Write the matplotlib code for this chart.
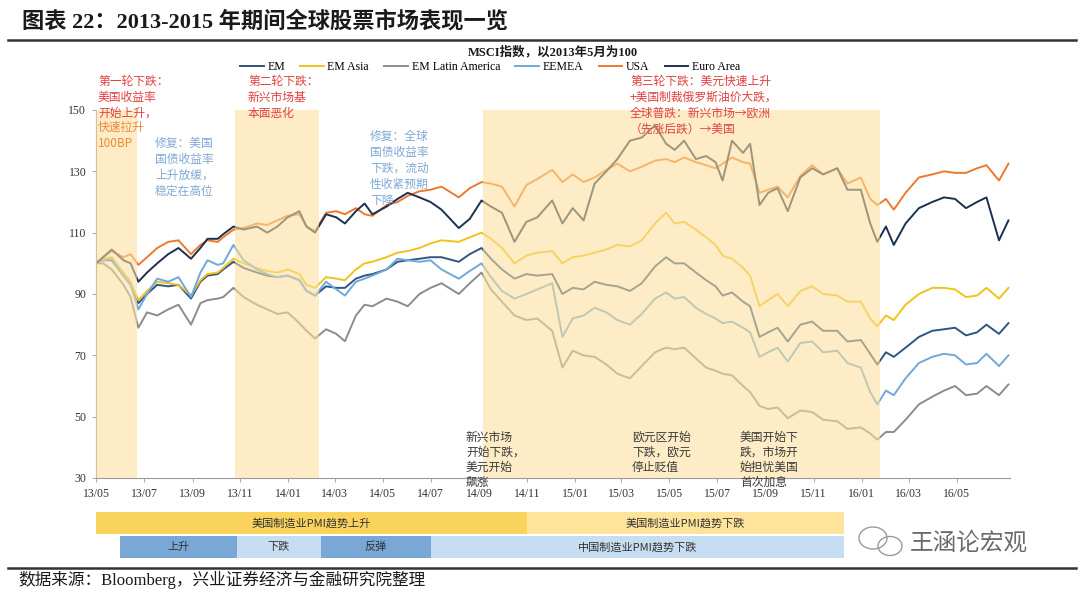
import matplotlib
matplotlib.use('Agg')
import matplotlib.pyplot as plt
import matplotlib.dates as mdates
import pandas as pd
from matplotlib.patches import Ellipse
from matplotlib.lines import Line2D

# MSCI index, May 2013 = 100
dates = ['2013-05-01', '2013-05-10', '2013-05-21', '2013-06-05', '2013-06-14', '2013-06-24', '2013-07-05',
         '2013-07-18', '2013-08-01', '2013-08-14', '2013-08-30', '2013-09-11', '2013-09-20', '2013-10-03',
         '2013-10-10', '2013-10-23', '2013-11-05', '2013-11-22', '2013-12-05', '2013-12-18', '2013-12-31',
         '2014-01-15', '2014-01-24', '2014-02-04', '2014-02-18', '2014-03-03', '2014-03-14', '2014-03-28',
         '2014-04-08', '2014-04-18', '2014-05-06', '2014-05-20', '2014-06-02', '2014-06-17', '2014-07-01',
         '2014-07-15', '2014-08-06', '2014-08-20', '2014-09-04', '2014-09-16', '2014-09-30', '2014-10-16',
         '2014-10-31', '2014-11-14', '2014-12-03', '2014-12-16', '2014-12-29',
         '2015-01-12', '2015-01-26', '2015-02-10', '2015-02-24', '2015-03-12', '2015-03-27', '2015-04-13',
         '2015-04-27', '2015-05-08', '2015-05-20', '2015-06-04', '2015-06-17', '2015-06-29', '2015-07-08',
         '2015-07-20', '2015-08-03', '2015-08-12', '2015-08-24', '2015-09-04', '2015-09-16', '2015-09-29',
         '2015-10-15', '2015-10-30', '2015-11-13', '2015-12-01', '2015-12-14', '2015-12-31',
         '2016-01-12', '2016-01-21', '2016-02-01', '2016-02-11', '2016-02-26', '2016-03-14', '2016-03-31',
         '2016-04-15', '2016-04-29', '2016-05-13', '2016-05-27', '2016-06-08', '2016-06-24', '2016-07-06']

em = [100, 101, 101, 96, 93, 87, 90, 93, 92.5, 93, 88.5, 94, 96, 96.5, 98, 100.5, 98.5, 97, 96, 95.5, 96,
      94.5, 91, 89.5, 92.5, 92, 92, 95, 96, 96.5, 98, 100.5, 101, 101.5, 102, 102, 100.5, 103, 105, 101.5, 98,
      95, 96.5, 96, 96.5, 90, 92,
      91.5, 94, 93, 92.5, 91, 93.5, 99, 102, 100, 100, 97, 94.5, 92.5, 89.5, 90.5, 87.5, 86, 76, 77.5, 79, 74.5,
      80, 81, 78, 78, 74.5, 75,
      70.5, 67, 71, 69.5, 72.5, 76, 78, 78.5, 79, 76.5, 77.5, 80, 77, 80.5]

em_asia = [100, 101.5, 102, 97, 94, 88, 91, 94, 93.5, 93, 89.5, 94.5, 96.5, 97, 98.5, 101.5, 100, 98.5, 97.5, 97, 98,
           96.5, 93, 92, 95.5, 95, 94.5, 98, 100, 100.5, 102, 103.5, 104, 105, 106.5, 107.5, 107, 108.5, 110, 108,
           105, 100, 102.5, 103.5, 104, 100, 102,
           102.5, 103.5, 104.5, 106, 105.5, 107.5, 113, 116.5, 113, 113.5, 111, 108.5, 106, 102.5, 101.5, 98.5, 96,
           86, 88, 90, 86, 91, 92.5, 90, 89.5, 87.5, 87.5,
           82, 79.5, 83, 81.5, 86.5, 90, 92, 92, 91.5, 89, 89.5, 92, 88.5, 92]

em_latam = [100, 100, 98, 93, 89, 79, 84, 83, 85, 86.5, 80, 87, 88, 88.5, 89, 92, 89, 86.5, 85, 83.5, 84,
            80.5, 78, 75.5, 78.5, 77, 74.6, 83, 86.5, 86, 88.5, 87.5, 86, 90, 92, 93.5, 90, 93.5, 97, 91.5, 87.5,
            83, 81.5, 82, 78, 66, 71.5,
            70, 69.5, 67, 64, 62.5, 66.5, 71, 72.5, 72, 72.5, 69, 66, 65, 64, 63.5, 60, 58, 53.5, 52.5, 53, 49.5,
            52, 51.5, 49, 48.5, 46, 46.5,
            44.5, 42.5, 45, 45, 49, 54, 56.5, 58.5, 60, 57, 57.5, 60, 57, 60.5]

eemea = [100, 101, 101.5, 96, 93, 85, 90, 95, 94, 95.5, 89, 97, 101, 99.5, 100, 106, 101, 98, 96.5, 95.5, 96,
         94.5, 91, 89.5, 94, 91.5, 89.5, 94, 95, 96, 98, 101.5, 101, 100.5, 101, 98, 95, 97.5, 100, 95.5, 91,
         88.5, 90, 91.5, 93.5, 76, 82,
         83, 85.5, 84, 81.5, 80, 83.5, 88.5, 90.5, 88.5, 89, 85.5, 83.5, 82, 80.5, 81, 79, 77.5, 69.5, 71, 72.5,
         68, 74, 74.5, 71, 71.5, 67.5, 66,
         58, 54, 58.5, 57, 62.5, 67.5, 69.5, 70.5, 70, 67, 67.5, 70.5, 66.5, 70]

usa = [100, 102, 104, 102, 103, 99.5, 102, 105, 107, 107.5, 103, 106, 107.5, 107, 108.5, 111, 111.5, 113, 112.5, 114,
       115.5,
       116, 112, 110.5, 116.5, 117, 116, 118, 116, 115.5, 119, 120, 122, 123.5, 124, 125, 121.5, 124.5, 126.5, 126,
       125, 118.5, 125.5, 127.5, 130.5, 126.5, 129,
       126.5, 128, 130.5, 132.5, 130, 131.5, 133.5, 134, 133, 134.5, 133, 132, 131, 132.5, 134.5, 133, 132.5, 123,
       124, 125, 121.5, 128.5, 132, 129, 131, 126, 128,
       121, 119, 121, 117.5, 123, 128, 129, 130, 129.5, 129.5, 131, 132, 127, 132.5]

euro = [100, 102, 104.5, 101, 100, 94, 97, 100, 103, 105, 101.5, 105, 108, 108, 109.5, 112, 111, 112, 110, 112, 115,
        117, 112, 110, 116, 115, 113, 117, 119.5, 116, 118.5, 121, 123, 121.5, 120, 117.5, 111.5, 114.5, 120.5,
        118.5, 116.5, 107, 113.5, 115, 120.5, 113, 118,
        114, 126, 130, 134, 140, 141, 145, 139, 137, 140, 134, 135, 133, 127, 140, 136, 139, 119, 123, 124.5, 117,
        128, 131, 129, 131, 124, 124,
        113, 107, 112, 106, 113, 118, 120, 121.5, 121, 118, 120, 121.5, 107.5, 114]

names = ['EM', 'EM Asia', 'EM Latin America', 'EEMEA', 'USA', 'Euro Area']
colors = ['#2f5583', '#f2c21b', '#8c8c8c', '#6fa8dc', '#ec7a2c', '#1c3050']

# shaded periods (three rounds of decline)
bands = [('2013-05-01', '2013-06-22'), ('2013-10-25', '2014-02-09'), ('2014-09-06', '2016-01-25')]

# PMI trend bars under the chart
us_pmi = [('2013-05-01', '2014-11-01', '美国制造业PMI趋势上升', '#f9d35c'),
          ('2014-11-01', '2015-12-10', '美国制造业PMI趋势下跌', '#fee49a')]
cn_pmi = [('2013-06-01', '2013-10-27', '上升', '#7aa8d6'),
          ('2013-10-27', '2014-02-12', '下跌', '#c7ddf1'),
          ('2014-02-12', '2014-07-01', '反弹', '#7aa8d6'),
          ('2014-07-01', '2015-12-10', '中国制造业PMI趋势下跌', '#c7ddf1')]

CJK = ['Noto Sans CJK SC', 'DejaVu Sans']
SERIF = ['Liberation Serif', 'Noto Sans CJK SC']

W, H = 1080, 590


def fx(x):
    return x / W


def fy(y):
    return 1 - y / H


fig = plt.figure(figsize=(10.8, 5.9), dpi=100)
ax = fig.add_axes([fx(96), fy(478), fx(1010) - fx(96), (478 - 110) / H])

d = pd.to_datetime(dates)
lines = []
for vals, name, c in zip([em, em_asia, em_latam, eemea, usa, euro], names, colors):
    ln, = ax.plot(d, vals, color=c, lw=1.4, label=name, zorder=2)
    lines.append(ln)

for a, b in bands:
    ax.axvspan(pd.Timestamp(a), pd.Timestamp(b), color='#fcdf9c', alpha=0.58, lw=0, zorder=3)

ax.set_ylim(30, 150)
ax.set_yticks(range(30, 151, 20))
ax.set_xlim(pd.Timestamp('2013-05-01'), pd.Timestamp('2016-07-08'))
ax.set_xticks(pd.date_range('2013-05-01', '2016-05-01', freq='2MS'))
ax.xaxis.set_major_formatter(mdates.DateFormatter('%y/%m'))
for s in ['top', 'right']:
    ax.spines[s].set_visible(False)
for s in ['left', 'bottom']:
    ax.spines[s].set_color('#9a9a9a')
    ax.spines[s].set_linewidth(0.8)
ax.tick_params(length=3, width=0.6, color='#9a9a9a', labelsize=8.5, pad=4)
for t in ax.get_xticklabels() + ax.get_yticklabels():
    t.set_family(SERIF)
    t.set_color('#333333')

# title and header
fig.text(fx(22), fy(22), '图表 22：2013-2015 年期间全球股票市场表现一览', family=SERIF, fontsize=16,
         fontweight='bold', va='center', ha='left', color='#1a1a1a')
fig.add_artist(Line2D([fx(8), fx(1076)], [fy(40), fy(40)], color='#333333', lw=1.8))
fig.text(fx(553), fy(52), 'MSCI指数，以2013年5月为100', family=SERIF, fontsize=9, fontweight='bold',
         ha='center', va='center', color='#1a1a1a')
fig.legend(lines, names, loc='center', bbox_to_anchor=(fx(490), fy(67)), ncol=6, frameon=False,
           prop={'family': 'Liberation Serif', 'size': 8.5}, handlelength=2.0, handletextpad=0.3,
           columnspacing=1.3)

# annotations
red, orange, blue, dark = '#e2403f', '#ee8a3c', '#7fa9d6', '#3a3a3a'


def note(x, y, txt, color, ls=1.3):
    fig.text(fx(x), fy(y), txt, family=CJK, fontsize=8.5, color=color, ha='left', va='top',
             linespacing=ls, zorder=5)


note(98, 75, '第一轮下跌：\n美国收益率\n开始上升，', red)
note(98, 121, '快速拉升\n100BP', orange)
note(155, 137, '修复：美国\n国债收益率\n上升放缓，\n稳定在高位', blue)
note(248, 75, '第二轮下跌：\n新兴市场基\n本面恶化', red)
note(370, 130, '修复：全球\n国债收益率\n下跌，流动\n性收紧预期\n下降', blue)
note(630, 75, '第三轮下跌：美元快速上升\n+美国制裁俄罗斯油价大跌，\n全球普跌：新兴市场→欧洲\n（先涨后跌）→美国', red)
note(466, 431, '新兴市场\n开始下跌，\n美元开始\n飙涨', dark, 1.2)
note(632, 431, '欧元区开始\n下跌，欧元\n停止贬值', dark, 1.2)
note(740, 431, '美国开始下\n跌，市场开\n始担忧美国\n首次加息', dark, 1.2)

# PMI bars
bx = fig.add_axes([fx(96), fy(558), fx(1010) - fx(96), (558 - 512) / H])
bx.set_xlim(ax.get_xlim())
bx.set_ylim(0, 2)
bx.axis('off')
for row, items in [(1.04, us_pmi), (0.0, cn_pmi)]:
    for a, b, label, c in items:
        x0 = mdates.date2num(pd.Timestamp(a))
        x1 = mdates.date2num(pd.Timestamp(b))
        bx.broken_barh([(x0, x1 - x0)], (row, 0.96), color=c, lw=0)
        bx.text((x0 + x1) / 2, row + 0.48, label, family=CJK, fontsize=8, ha='center', va='center',
                color='#333333')

# watermark
fig.add_artist(Ellipse((fx(873), fy(538)), 28 / W, 22 / H, fill=False, ec='#9a9a9a', lw=1.0))
fig.add_artist(Ellipse((fx(890), fy(546)), 24 / W, 19 / H, fill=False, ec='#9a9a9a', lw=1.0))
fig.text(fx(910), fy(543), '王涵论宏观', family=CJK, fontsize=17, fontweight='light', color='#6a6a6a',
         ha='left', va='center')

# footer
fig.add_artist(Line2D([fx(8), fx(1076)], [fy(568), fy(568)], color='#333333', lw=1.8))
fig.text(fx(18), fy(580), '数据来源：Bloomberg，兴业证券经济与金融研究院整理', family=SERIF, fontsize=12,
         ha='left', va='center', color='#1a1a1a')

fig.savefig('out.png', dpi=100)
